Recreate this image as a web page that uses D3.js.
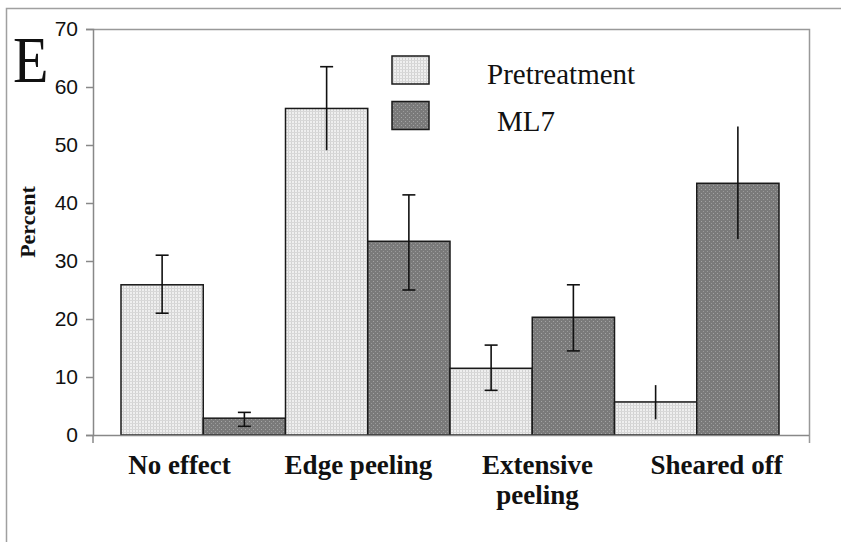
<!DOCTYPE html>
<html lang="en">
<head>
<meta charset="utf-8">
<script src="https://cdn.jsdelivr.net/npm/d3@7"></script>
<style>
  body { margin: 0; background: #fff; }
</style>
</head>
<body>
<div id="chart"></div>
<script>
"use strict";

// values (percent)
const categories = ["No effect", "Edge peeling", "Extensive peeling", "Sheared off"];
const seriesNames = ["Pretreatment", "ML7"];
const pretreatment = [25.9, 56.3, 11.5, 5.7];
const ml7 = [2.9, 33.4, 20.3, 43.4];
const pretreatmentErrLow = [21.0, 49.1, 7.7, 2.7];
const pretreatmentErrHigh = [31.0, 63.5, 15.5, 8.6];
const ml7ErrLow = [1.5, 25.0, 14.5, 33.8];
const ml7ErrHigh = [3.9, 41.4, 25.9, 53.2];
const yTicks = [0, 10, 20, 30, 40, 50, 60, 70];

const W = 841, H = 542;
const plotLeft = 93, plotRight = 809, plotTop = 29, plotBottom = 435;

const svg = d3.select("#chart").append("svg")
  .attr("width", W).attr("height", H);

// texture fills
const defs = svg.append("defs");
const light = defs.append("pattern").attr("id", "pLight")
  .attr("width", 3).attr("height", 3).attr("patternUnits", "userSpaceOnUse");
light.append("rect").attr("width", 3).attr("height", 3).attr("fill", "#efefef");
light.append("rect").attr("width", 1).attr("height", 3).attr("fill", "#d2d2d2");
light.append("rect").attr("width", 3).attr("height", 1).attr("fill", "#d8d8d8");

const dark = defs.append("pattern").attr("id", "pDark")
  .attr("width", 4).attr("height", 4).attr("patternUnits", "userSpaceOnUse");
dark.append("rect").attr("width", 4).attr("height", 4).attr("fill", "#7a7a7a");
dark.append("rect").attr("x", 1).attr("y", 1).attr("width", 1).attr("height", 1).attr("fill", "#a4a4a4");
dark.append("rect").attr("x", 3).attr("y", 3).attr("width", 1).attr("height", 1).attr("fill", "#9a9a9a");

// outer frame (top + left edge)
svg.append("path").attr("d", `M6.5,${H} V8.5 H${W}`)
  .attr("fill", "none").attr("stroke", "#a0a0a0").attr("stroke-width", 1.5);

const y = d3.scaleLinear().domain([0, 70]).range([plotBottom, plotTop]);

// categories for labels span the whole axis
const xLabel = d3.scaleBand().domain(categories).range([plotLeft, plotRight]).padding(0);

// bars sit in one contiguous block
const barKeys = [];
categories.forEach(c => seriesNames.forEach(s => barKeys.push(c + "|" + s)));
const xBar = d3.scaleBand().domain(barKeys).range([121, 779]).padding(0);

const rows = [];
categories.forEach((c, i) => {
  rows.push({ key: c + "|Pretreatment", v: pretreatment[i], lo: pretreatmentErrLow[i], hi: pretreatmentErrHigh[i], fill: "url(#pLight)", caps: i < 3, capLow: i !== 1 });
  rows.push({ key: c + "|ML7", v: ml7[i], lo: ml7ErrLow[i], hi: ml7ErrHigh[i], fill: "url(#pDark)", caps: i < 3, capLow: true });
});

// plot area border (top + right)
svg.append("path").attr("d", `M${plotLeft},${plotTop + 0.5} H${plotRight + 0.5} V443`)
  .attr("fill", "none").attr("stroke", "#999").attr("stroke-width", 1.5);

// bars
svg.append("g").selectAll("rect").data(rows).join("rect")
  .attr("x", d => xBar(d.key))
  .attr("y", d => y(d.v))
  .attr("width", xBar.bandwidth())
  .attr("height", d => y(0) - y(d.v))
  .attr("fill", d => d.fill)
  .attr("stroke", "#1a1a1a").attr("stroke-width", 1.5);

// error bars
const eb = svg.append("g").attr("stroke", "#111").attr("stroke-width", 1.6);
rows.forEach(d => {
  const cx = xBar(d.key) + xBar.bandwidth() / 2;
  eb.append("line").attr("x1", cx).attr("x2", cx).attr("y1", y(d.hi)).attr("y2", y(d.lo));
  if (d.caps) {
    eb.append("line").attr("x1", cx - 6.5).attr("x2", cx + 6.5).attr("y1", y(d.hi)).attr("y2", y(d.hi));
    if (d.capLow)
      eb.append("line").attr("x1", cx - 6.5).attr("x2", cx + 6.5).attr("y1", y(d.lo)).attr("y2", y(d.lo));
  }
});

// y axis
const yAxis = svg.append("g").attr("transform", `translate(${plotLeft},0)`)
  .call(d3.axisLeft(y).tickValues(yTicks).tickSize(7).tickPadding(8));
yAxis.select(".domain").attr("stroke", "#888").attr("stroke-width", 1.5);
yAxis.selectAll(".tick line").attr("stroke", "#888").attr("stroke-width", 1.5);
yAxis.selectAll(".tick text")
  .attr("font-family", "Liberation Sans, Arial, sans-serif")
  .attr("font-size", 21).attr("fill", "#111");

// x axis line with end tick
svg.append("path").attr("d", `M${plotLeft},${plotBottom + 0.5} H${plotRight}`)
  .attr("stroke", "#888").attr("stroke-width", 1.5).attr("fill", "none");
svg.append("line").attr("x1", plotLeft).attr("x2", plotLeft).attr("y1", plotBottom).attr("y2", 443)
  .attr("stroke", "#888").attr("stroke-width", 1.5);

// category labels
const labelFont = "Liberation Serif, Times New Roman, serif";
categories.forEach(c => {
  const cx = xLabel(c) + xLabel.bandwidth() / 2 - 3;
  const words = c === "Extensive peeling" ? ["Extensive", "peeling"] : [c];
  words.forEach((w, k) => {
    svg.append("text").attr("x", cx).attr("y", 474 + k * 30)
      .attr("text-anchor", "middle")
      .attr("font-family", labelFont).attr("font-weight", "bold")
      .attr("font-size", 27).attr("fill", "#111")
      .text(w);
  });
});

// y axis title
svg.append("text").attr("transform", "translate(35,222) rotate(-90)")
  .attr("text-anchor", "middle")
  .attr("font-family", labelFont).attr("font-weight", "bold")
  .attr("font-size", 22).attr("fill", "#111")
  .text("Percent");

// panel letter
svg.append("text").attr("transform", "translate(13,82) scale(0.88,1)")
  .attr("font-family", labelFont).attr("font-size", 66).attr("fill", "#111")
  .text("E");

// legend
const legend = svg.append("g");
seriesNames.forEach((s, i) => {
  legend.append("rect").attr("x", 392).attr("y", 56 + i * 45.5)
    .attr("width", 37).attr("height", 28)
    .attr("fill", i === 0 ? "url(#pLight)" : "url(#pDark)")
    .attr("stroke", "#1a1a1a").attr("stroke-width", 1.5);
  legend.append("text").attr("x", i === 0 ? 487 : 497).attr("y", 84 + i * 47)
    .attr("font-family", labelFont).attr("font-size", 29).attr("fill", "#111")
    .text(s);
});
</script>
</body>
</html>
